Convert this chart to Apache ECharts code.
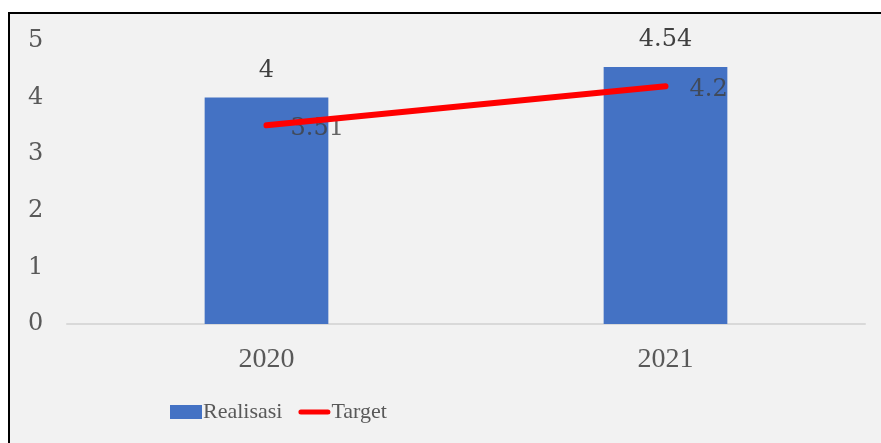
<!DOCTYPE html>
<html>
<head>
<meta charset="utf-8">
<script src="https://cdn.jsdelivr.net/npm/echarts@6/dist/echarts.min.js"></script>
<style>
  html, body { margin: 0; padding: 0; background: #fff; }
  #main { width: 881px; height: 443px; }
</style>
</head>
<body>
<div id="main"></div>
<script>
const years = ['2020', '2021'];
const realisasi = [4, 4.54];
const target = [3.51, 4.2];
const yTicks = [0, 1, 2, 3, 4, 5];

const chart = echarts.init(document.getElementById('main'));

chart.setOption({
  backgroundColor: '#ffffff',
  animation: false,
  graphic: [{
    type: 'rect',
    z: -10,
    shape: { x: 9, y: 13, width: 900, height: 500 },
    style: { fill: '#f2f2f2', stroke: '#000', lineWidth: 2 }
  }],
  grid: { left: 67, right: 16, top: 41, bottom: 119 },
  legend: {
    top: 396,
    left: 165,
    itemGap: 16,
    itemWidth: 32,
    itemHeight: 14,
    textStyle: { fontFamily: 'Liberation Serif', fontSize: 22, color: '#595959', padding: [0, 0, 0, -4] },
    data: [
      { name: 'Realisasi', icon: 'rect' },
      {
        name: 'Target',
        icon: 'path://M2.5,0 H29.5 A2.5,2.5 0 0 1 29.5,5 H2.5 A2.5,2.5 0 0 1 2.5,0 Z',
        itemStyle: { color: '#ff0000' }
      }
    ]
  },
  xAxis: {
    type: 'category',
    data: years,
    axisTick: { show: false },
    axisLine: { lineStyle: { color: '#d9d9d9', width: 2 } },
    axisLabel: { fontFamily: 'Liberation Serif', fontSize: 28, color: '#595959', margin: 22 }
  },
  yAxis: {
    type: 'value',
    min: yTicks[0],
    max: yTicks[yTicks.length - 1],
    interval: 1,
    splitLine: { show: false },
    axisLabel: {
      fontFamily: 'DejaVu Serif', fontSize: 24, color: '#595959',
      align: 'left', margin: 39
    }
  },
  series: [
    {
      name: 'Realisasi',
      type: 'bar',
      data: realisasi,
      barWidth: '31%',
      itemStyle: { color: '#4472c4' },
      label: {
        show: true, position: 'top', distance: 15,
        fontFamily: 'DejaVu Serif', fontSize: 24, color: '#404040'
      }
    },
    {
      name: 'Target',
      type: 'line',
      data: target,
      symbol: 'none',
      lineStyle: { color: '#ff0000', width: 6, cap: 'round' },
      itemStyle: { color: '#ff0000' }
    },
    {
      name: 'TargetLabel',
      type: 'scatter',
      data: target,
      symbolSize: 0,
      silent: true,
      label: {
        show: true, position: 'right', distance: 24,
        fontFamily: 'DejaVu Serif', fontSize: 24, color: '#404040',
        offset: [0, 3]
      }
    }
  ]
});
</script>
</body>
</html>
